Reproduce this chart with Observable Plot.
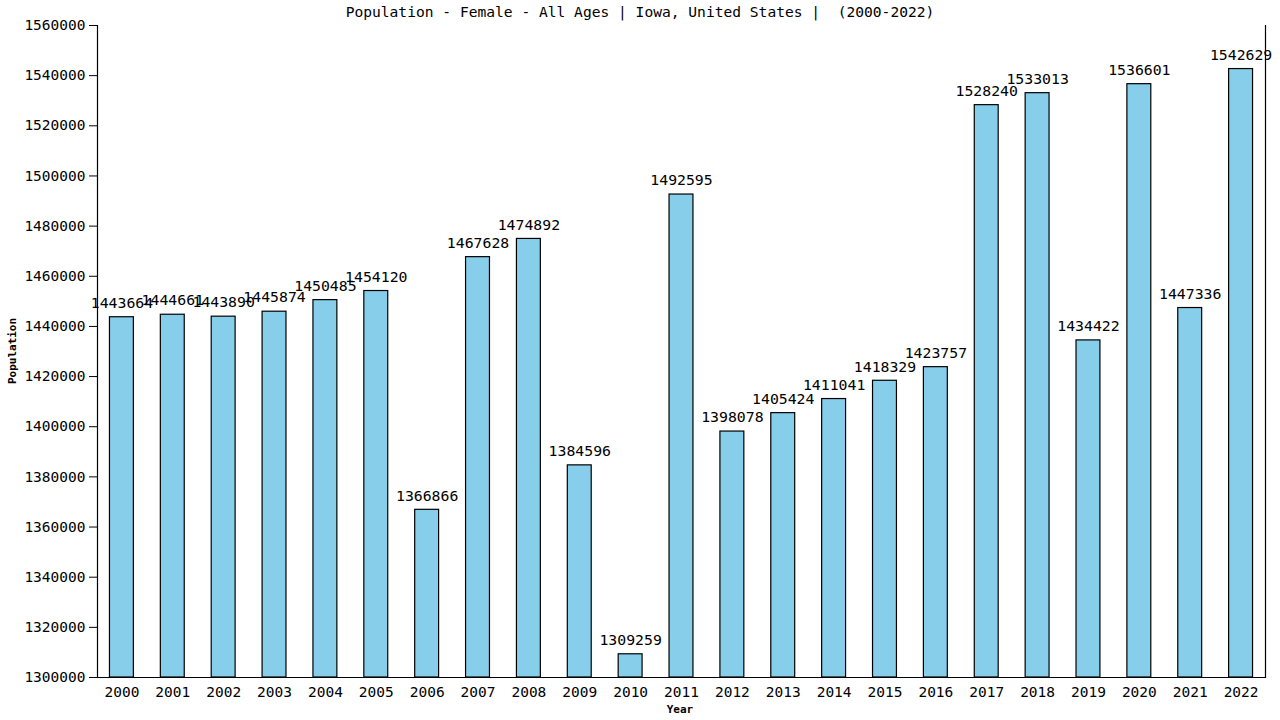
<!DOCTYPE html>
<html><head><meta charset="utf-8">
<script src="https://cdn.jsdelivr.net/npm/d3@7"></script>
<script src="https://cdn.jsdelivr.net/npm/@observablehq/plot@0.6"></script>
<style>
body{margin:0;background:#fff;}
#c{position:relative;width:1280px;height:720px;}
#title{position:absolute;top:3px;left:0;width:1280px;text-align:center;font-family:"DejaVu Sans Mono",monospace;font-size:14.6px;color:#000;white-space:pre;}
svg{font-family:"DejaVu Sans Mono",monospace;}
</style></head><body>
<div id="c"><div id="title">Population - Female - All Ages | Iowa, United States |  (2000-2022)</div></div>
<script>
const years = ["2000","2001","2002","2003","2004","2005","2006","2007","2008","2009","2010","2011","2012","2013","2014","2015","2016","2017","2018","2019","2020","2021","2022"];
const values = [1443664,1444661,1443890,1445874,1450485,1454120,1366866,1467628,1474892,1384596,1309259,1492595,1398078,1405424,1411041,1418329,1423757,1528240,1533013,1434422,1536601,1447336,1542629];
const yTicks = [1300000,1320000,1340000,1360000,1380000,1400000,1420000,1440000,1460000,1480000,1500000,1520000,1540000,1560000];
const data = years.map((y,i)=>({year:y,value:values[i]}));
const chart = Plot.plot({
  width:1280,height:720,
  marginLeft:97,marginRight:15,marginTop:25,marginBottom:43,
  style:{fontSize:"14.5px",fontFamily:"DejaVu Sans Mono, monospace",color:"#000",background:"transparent"},
  x:{domain:years,paddingInner:0.53,paddingOuter:0.245,round:false,label:null},
  y:{domain:[1300000,1560000],label:null},
  marks:[
    Plot.barY(data,{x:"year",y1:1300000,y2:"value",fill:"#87CEEB",stroke:"#000",strokeWidth:1.2}),
    Plot.text(data,{x:"year",y:"value",text:d=>String(d.value),dy:-14,fontSize:14.8,fill:"#000"}),
    Plot.axisX({tickSize:0,tickPadding:9,label:null,fontSize:14.5}),
    Plot.axisY({ticks:yTicks,tickFormat:d=>String(d),tickSize:8,tickPadding:4,label:null,fontSize:14.5}),
    Plot.ruleY([1300000],{stroke:"#000",strokeWidth:1.2}),
    Plot.frame({anchor:"right",stroke:"#000",strokeWidth:1.2}),
    Plot.frame({anchor:"left",stroke:"#000",strokeWidth:1.2})
  ]
});
document.getElementById("c").appendChild(chart);
const svg = d3.select(chart);
svg.append("text").attr("x",680).attr("y",713).attr("text-anchor","middle").attr("font-weight","bold").attr("font-size",11).text("Year");
svg.append("text").attr("transform","translate(16,351) rotate(-90)").attr("text-anchor","middle").attr("font-weight","bold").attr("font-size",11).text("Population");
</script>
</body></html>
